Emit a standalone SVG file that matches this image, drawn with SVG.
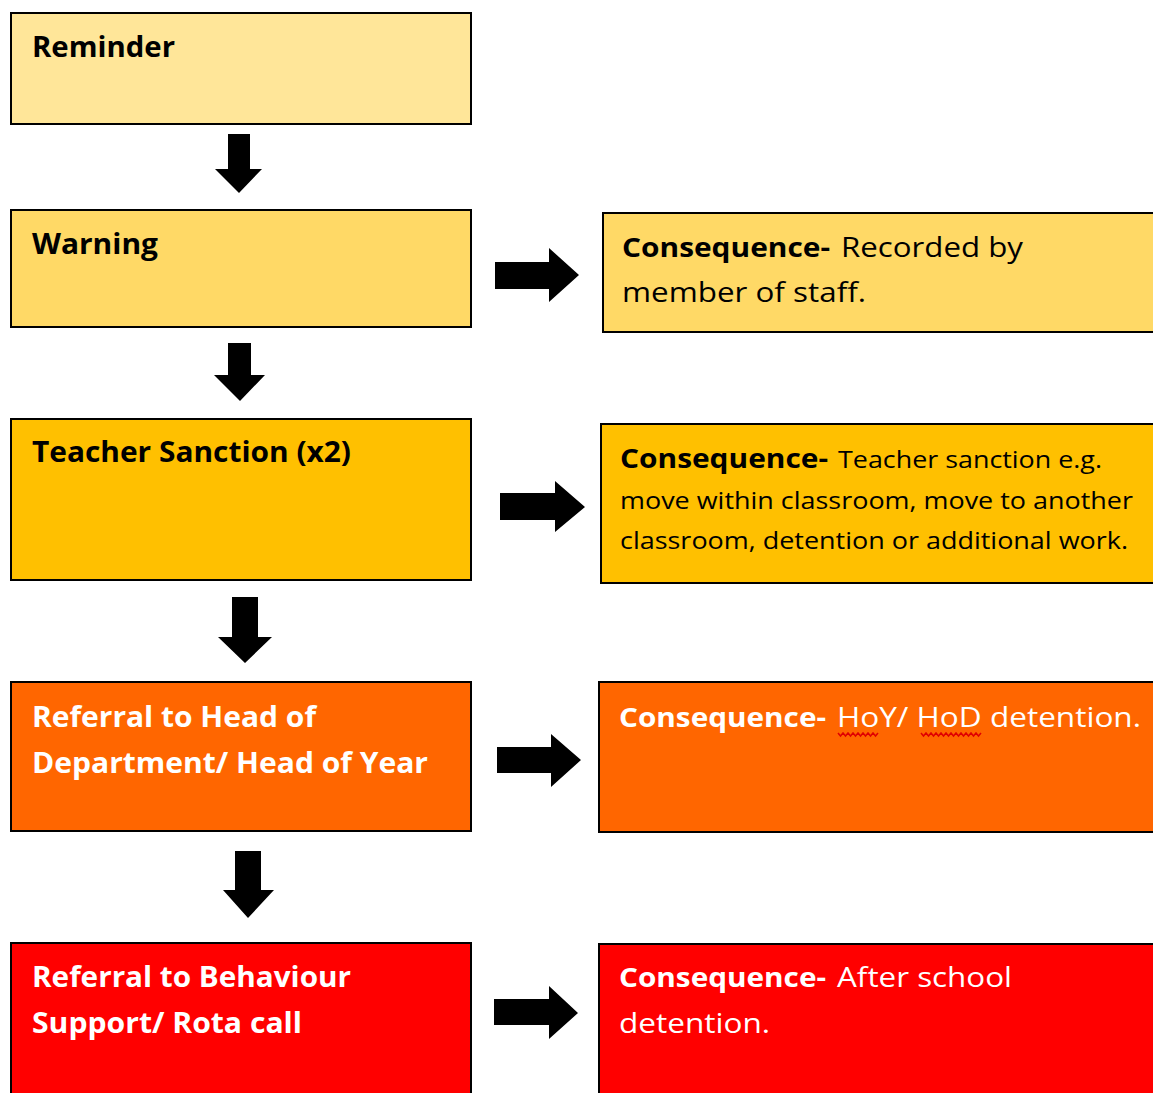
<svg xmlns="http://www.w3.org/2000/svg" width="1153" height="1093" viewBox="0 0 1153 1093">
<style>
.box{stroke:#000;stroke-width:2}
.t{font-family:"Open Sans","Liberation Sans",sans-serif;font-weight:bold;font-size:28px;fill:#000}
.w{fill:#fff}
.cb{font-family:"Open Sans","Liberation Sans",sans-serif;font-weight:bold;font-size:27px}
.cr{font-family:"Open Sans","Liberation Sans",sans-serif;font-size:28px}
.cs{font-family:"Open Sans","Liberation Sans",sans-serif;font-size:24px}
.arr{fill:#000}
.sq{fill:none;stroke:#e00000;stroke-width:1.5}
</style>
<rect width="1153" height="1093" fill="#fff"/>
<g id="reminder">
<rect class="box" x="11" y="13" width="460" height="111" fill="#FFE699"/>
<text class="t" x="32" y="57" textLength="143" lengthAdjust="spacingAndGlyphs">Reminder</text>
</g>
<g id="warning">
<rect class="box" x="11" y="210" width="460" height="117" fill="#FFD966"/>
<text class="t" x="32" y="254" textLength="126" lengthAdjust="spacingAndGlyphs">Warning</text>
</g>
<g id="teacher-sanction">
<rect class="box" x="11" y="419" width="460" height="161" fill="#FFC000"/>
<text class="t" x="32" y="462" textLength="319" lengthAdjust="spacingAndGlyphs">Teacher Sanction (x2)</text>
</g>
<g id="referral-hod">
<rect class="box" x="11" y="682" width="460" height="149" fill="#FF6600"/>
<text class="t w" x="32" y="727" textLength="284" lengthAdjust="spacingAndGlyphs">Referral to Head of</text>
<text class="t w" x="32" y="773" textLength="396" lengthAdjust="spacingAndGlyphs">Department/ Head of Year</text>
</g>
<g id="referral-behaviour">
<rect class="box" x="11" y="943" width="460" height="160" fill="#FF0000"/>
<text class="t w" x="32" y="987" textLength="319" lengthAdjust="spacingAndGlyphs">Referral to Behaviour</text>
<text class="t w" x="32" y="1033" textLength="270" lengthAdjust="spacingAndGlyphs">Support/ Rota call</text>
</g>
<g id="consequence-1">
<rect class="box" x="603" y="213" width="560" height="119" fill="#FFD966"/>
<text class="cb" x="622" y="257" textLength="208" lengthAdjust="spacingAndGlyphs">Consequence-</text>
<text class="cr" x="841" y="257" textLength="182" lengthAdjust="spacingAndGlyphs">Recorded by</text>
<text class="cr" x="622" y="302" textLength="244" lengthAdjust="spacingAndGlyphs">member of staff.</text>
</g>
<g id="consequence-2">
<rect class="box" x="601" y="424" width="560" height="159" fill="#FFC000"/>
<text class="cb" x="620" y="468" textLength="208" lengthAdjust="spacingAndGlyphs">Consequence-</text>
<text class="cs" x="838" y="468" textLength="264" lengthAdjust="spacingAndGlyphs">Teacher sanction e.g.</text>
<text class="cs" x="620" y="509" textLength="513" lengthAdjust="spacingAndGlyphs">move within classroom, move to another</text>
<text class="cs" x="620" y="549" textLength="508" lengthAdjust="spacingAndGlyphs">classroom, detention or additional work.</text>
</g>
<g id="consequence-3">
<rect class="box" x="599" y="682" width="560" height="150" fill="#FF6600"/>
<text class="cb w" x="619" y="727" textLength="207" lengthAdjust="spacingAndGlyphs">Consequence-</text>
<text class="cr w" x="837" y="727" textLength="304" lengthAdjust="spacingAndGlyphs">HoY/ HoD detention.</text>
<path class="sq" d="M838 733 l2.5 3 l2.5 -3 l2.5 3 l2.5 -3 l2.5 3 l2.5 -3 l2.5 3 l2.5 -3 l2.5 3 l2.5 -3 l2.5 3 l2.5 -3 l2.5 3 l2.5 -3 l2.5 3 l2.5 -3"/>
<path class="sq" d="M921 733 l2.5 3 l2.5 -3 l2.5 3 l2.5 -3 l2.5 3 l2.5 -3 l2.5 3 l2.5 -3 l2.5 3 l2.5 -3 l2.5 3 l2.5 -3 l2.5 3 l2.5 -3 l2.5 3 l2.5 -3 l2.5 3 l2.5 -3 l2.5 3 l2.5 -3 l2.5 3 l2.5 -3 l2.5 3 l2.5 -3"/>
</g>
<g id="consequence-4">
<rect class="box" x="599" y="944" width="560" height="160" fill="#FF0000"/>
<text class="cb w" x="619" y="987" textLength="207" lengthAdjust="spacingAndGlyphs">Consequence-</text>
<text class="cr w" x="837" y="987" textLength="175" lengthAdjust="spacingAndGlyphs">After school</text>
<text class="cr w" x="619" y="1033" textLength="151" lengthAdjust="spacingAndGlyphs">detention.</text>
</g>
<g id="connectors">
<polygon class="arr" points="228,134 250,134 250,169 262,169 239,193 215,169 228,169"/>
<polygon class="arr" points="228,343 251,343 251,375 265,375 240,401 214,375 228,375"/>
<polygon class="arr" points="232,597 258,597 258,637 272,637 245,663 218,637 232,637"/>
<polygon class="arr" points="235,851 261,851 261,890 274,890 248,918 223,890 235,890"/>
<polygon class="arr" points="495,262 549,262 549,248 579,275 549,302 549,289 495,289"/>
<polygon class="arr" points="500,493 555,493 555,481 585,507 555,532 555,520 500,520"/>
<polygon class="arr" points="497,747 551,747 551,734 581,760 551,787 551,773 497,773"/>
<polygon class="arr" points="494,999 549,999 549,986 578,1013 549,1039 549,1025 494,1025"/>
</g>
</svg>
